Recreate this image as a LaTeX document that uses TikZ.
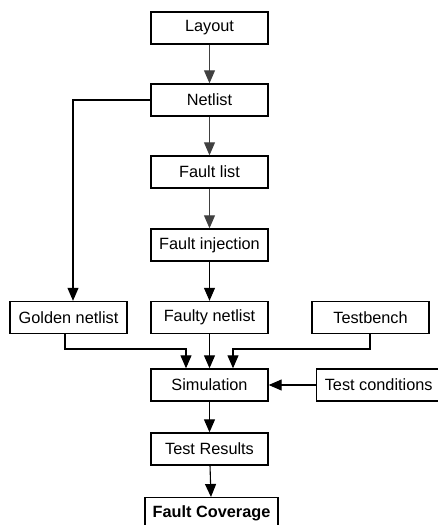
\documentclass[tikz,border=0pt]{standalone}
\usepackage{fontspec}
\setmainfont{Liberation Sans}
\usetikzlibrary{arrows.meta}
\begin{document}
\begin{tikzpicture}[x=1pt,y=-1pt,
  box/.style={draw=black,line width=1.4pt,minimum width=117pt,minimum height=32pt,inner sep=0pt,font=\fontsize{16.3}{19}\selectfont},
  conn/.style={line width=1.1pt,-{Triangle[length=13pt,width=11pt]}},
  thin/.style={conn,draw=black!75,line width=0.9pt}]
\useasboundingbox (0,0) rectangle (438,525);
\clip (0,0) rectangle (438,525);
\node[box] (layout) at (209.5,28) {Layout};
\node[box] (netlist) at (209.5,100) {Netlist};
\node[box] (flist) at (209.5,172) {Fault list};
\node[box] (finj) at (209.5,245) {Fault injection};
\node[box] (golden) at (68.5,317.5) {Golden netlist};
\node[box] (faulty) at (209.5,317.5) {Faulty netlist};
\node[box] (tb) at (370.5,317.5) {Testbench};
\node[box] (sim) at (209.5,385) {Simulation};
\node[box,minimum width=124pt,anchor=west] (tc) at (316,385) {Test conditions};
\node[box] (res) at (209.5,449) {Test Results};
\node[box,minimum width=133pt,font=\fontsize{16.3}{19}\selectfont\bfseries,anchor=north] (fc) at (211.5,497) {Fault Coverage};
\coordinate (gl) at (186,349);
\coordinate (tr) at (233,349);
\draw[thin] (layout) -- (netlist);
\draw[thin] (netlist) -- (flist);
\draw[thin] (flist) -- (finj);
\draw[conn] (finj) -- (faulty);
\draw[conn] (netlist.west) -| (golden.north -| 73,0);
\draw[conn] (golden.south -| 65,0) |- (gl) -- (gl |- sim.north);
\draw[conn] (faulty) -- (sim);
\draw[conn] (tb.south -| 370,0) |- (tr) -- (tr |- sim.north);
\draw[conn] (tc) -- (sim);
\draw[conn] (sim) -- (res);
\draw[conn] (res) -- (fc);
\end{tikzpicture}
\end{document}
